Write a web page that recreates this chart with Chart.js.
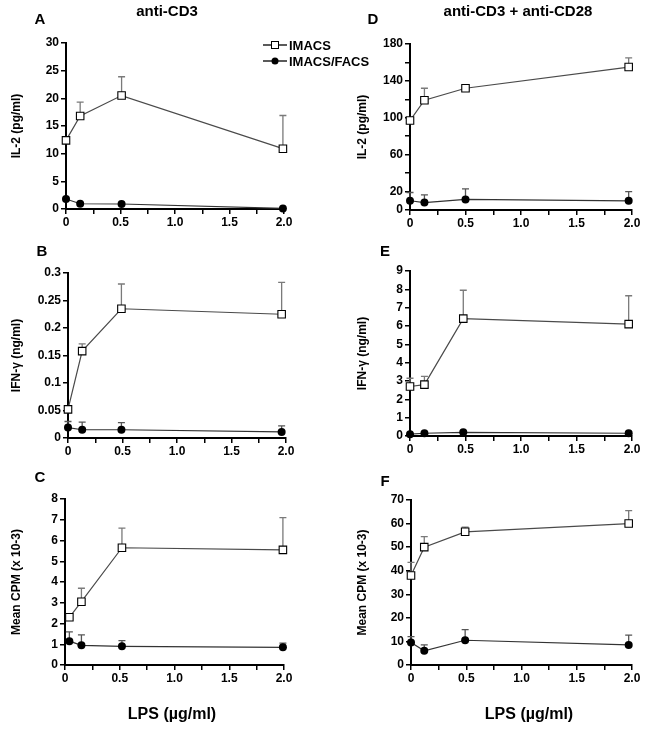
<!DOCTYPE html>
<html>
<head>
<meta charset="utf-8">
<script src="https://cdn.jsdelivr.net/npm/chart.js@4.4.1/dist/chart.umd.min.js"></script>
<style>
  body { margin: 0; background: #fff; width: 654px; height: 729px; position: relative; overflow: hidden; }
  canvas { position: absolute; }
</style>
</head>
<body>
<canvas id="pA" width="380" height="235" style="left:0;top:0"></canvas>
<canvas id="pD" width="324" height="235" style="left:330px;top:0"></canvas>
<canvas id="pB" width="330" height="225" style="left:0;top:235px"></canvas>
<canvas id="pE" width="324" height="225" style="left:330px;top:235px"></canvas>
<canvas id="pC" width="330" height="269" style="left:0;top:460px"></canvas>
<canvas id="pF" width="324" height="269" style="left:330px;top:460px"></canvas>
<script>
// LPS doses (x) as read for each panel
const lpsA = [0, 0.13, 0.51, 1.99];
const lpsB = [0, 0.13, 0.49, 1.96];
const lpsC = [0.04, 0.15, 0.52, 1.99];
const lpsD = [0, 0.13, 0.5, 1.97];
const lpsE = [0, 0.13, 0.48, 1.97];
const lpsF = [0, 0.12, 0.49, 1.97];

// A: IL-2, anti-CD3   (Hi = top of error bar)
const il2Cd3Imacs = [12.4, 16.8, 20.5, 10.9];
const il2Cd3ImacsHi = [null, 19.3, 23.9, 16.9];
const il2Cd3Facs = [1.8, 0.95, 0.9, 0.1];
const il2Cd3FacsHi = [null, null, null, null];

// B: IFN-gamma, anti-CD3
const ifnCd3Imacs = [0.052, 0.158, 0.235, 0.225];
const ifnCd3ImacsHi = [null, 0.171, 0.28, 0.283];
const ifnCd3Facs = [0.019, 0.015, 0.015, 0.011];
const ifnCd3FacsHi = [0.03, 0.029, 0.028, 0.022];

// C: Mean CPM, anti-CD3
const cpmCd3Imacs = [2.3, 3.05, 5.65, 5.55];
const cpmCd3ImacsHi = [null, 3.7, 6.6, 7.1];
const cpmCd3Facs = [1.15, 0.95, 0.9, 0.85];
const cpmCd3FacsHi = [1.6, 1.45, 1.17, 1.05];

// D: IL-2, anti-CD3 + anti-CD28
const il2Cd28Imacs = [97, 119, 132, 155];
const il2Cd28ImacsHi = [null, 132, null, 165];
const il2Cd28Facs = [10, 8, 11.5, 10];
const il2Cd28FacsHi = [19, 16.5, 23, 20];

// E: IFN-gamma, anti-CD3 + anti-CD28
const ifnCd28Imacs = [2.7, 2.8, 6.4, 6.1];
const ifnCd28ImacsHi = [3.15, 3.25, 7.95, 7.65];
const ifnCd28Facs = [0.1, 0.15, 0.2, 0.15];
const ifnCd28FacsHi = [null, null, null, null];

// F: Mean CPM, anti-CD3 + anti-CD28
const cpmCd28Imacs = [38, 50, 56.5, 60];
const cpmCd28ImacsHi = [43.5, 54.5, 58.5, 65.5];
const cpmCd28Facs = [9.5, 6, 10.5, 8.5];
const cpmCd28FacsHi = [12, 8.5, 15, 12.7];

// ticks
const xTicks = [0, 0.25, 0.5, 0.75, 1, 1.25, 1.5, 1.75, 2];
const xTickLabels = ['0', '', '0.5', '', '1.0', '', '1.5', '', '2.0'];
const yTicksA = [0, 5, 10, 15, 20, 25, 30];
const yTicksB = [0, 0.05, 0.1, 0.15, 0.2, 0.25, 0.3];
const yLabelsB = ['0', '0.05', '0.1', '0.15', '0.2', '0.25', '0.3'];
const yTicksC = [0, 1, 2, 3, 4, 5, 6, 7, 8];
const yTicksD = [0, 20, 40, 60, 80, 100, 120, 140, 160, 180];
const yLabelsD = ['0', '20', '', '60', '', '100', '', '140', '', '180'];
const yTicksE = [0, 1, 2, 3, 4, 5, 6, 7, 8, 9];
const yTicksF = [0, 10, 20, 30, 40, 50, 60, 70];

const seriesNames = ['IMACS', 'IMACS/FACS'];

Chart.defaults.font.family = "'Liberation Sans', Arial, sans-serif";
Chart.defaults.color = '#000';

const errorBars = {
  id: 'errorBars',
  beforeDatasetsDraw(chart) {
    const ctx = chart.ctx;
    const xs = chart.scales.x, ys = chart.scales.y;
    chart.data.datasets.forEach(ds => {
      ctx.save();
      ctx.strokeStyle = ds.errColor;
      ctx.lineWidth = 1.3;
      ds.data.forEach((p, i) => {
        const hi = ds.errHi[i];
        if (hi == null) return;
        const x = xs.getPixelForValue(p.x);
        const y0 = ys.getPixelForValue(p.y);
        const y1 = ys.getPixelForValue(hi);
        ctx.beginPath();
        ctx.moveTo(x, y0);
        ctx.lineTo(x, y1);
        ctx.moveTo(x - 3.5, y1);
        ctx.lineTo(x + 3.5, y1);
        ctx.stroke();
      });
      ctx.restore();
    });
  }
};

function textPlugin(texts) {
  return {
    id: 'panelText',
    afterDraw(chart) {
      const ctx = chart.ctx;
      ctx.save();
      ctx.fillStyle = '#000';
      ctx.textAlign = 'center';
      ctx.textBaseline = 'middle';
      texts.forEach(t => {
        ctx.font = 'bold ' + t.size + "px 'Liberation Sans', Arial, sans-serif";
        ctx.fillText(t.text, t.x, t.y);
      });
      ctx.restore();
    }
  };
}

const legendPlugin = {
  id: 'lineLegend',
  afterDraw(chart) {
    const ctx = chart.ctx;
    ctx.save();
    chart.data.datasets.forEach((ds, i) => {
      const y = 45 + i * 16;
      ctx.strokeStyle = '#000';
      ctx.lineWidth = 1.3;
      ctx.beginPath();
      ctx.moveTo(263, y);
      ctx.lineTo(287, y);
      ctx.stroke();
      ctx.fillStyle = ds.pointBackgroundColor;
      ctx.lineWidth = 1;
      if (ds.pointStyle === 'rect') {
        ctx.fillRect(271.5, y - 3.5, 7, 7);
        ctx.strokeRect(271.5, y - 3.5, 7, 7);
      } else {
        ctx.beginPath();
        ctx.arc(275, y, 3.5, 0, Math.PI * 2);
        ctx.fill();
      }
      ctx.fillStyle = '#000';
      ctx.font = "bold 13px 'Liberation Sans', Arial, sans-serif";
      ctx.textBaseline = 'middle';
      ctx.fillText(ds.label, 289, y + 1);
    });
    ctx.restore();
  }
};

function makePanel(id, box, lps, imacs, imacsHi, facs, facsHi, yTicks, yLabels, yTitle, texts, withLegend) {
  const el = document.getElementById(id);
  const W = el.width, H = el.height;
  const plugins = [errorBars, textPlugin(texts)];
  if (withLegend) plugins.push(legendPlugin);
  return new Chart(el, {
    type: 'line',
    data: {
      datasets: [{
        label: seriesNames[0],
        data: lps.map((x, i) => ({ x: x, y: imacs[i] })),
        errHi: imacsHi,
        errColor: '#7a7a7a',
        borderColor: '#4a4a4a',
        borderWidth: 1.2,
        pointStyle: 'rect',
        pointRadius: 5.3,
        pointBackgroundColor: '#fff',
        pointBorderColor: '#000',
        pointBorderWidth: 1.1,
        clip: false
      }, {
        label: seriesNames[1],
        data: lps.map((x, i) => ({ x: x, y: facs[i] })),
        errHi: facsHi,
        errColor: '#555',
        borderColor: '#333',
        borderWidth: 1.2,
        pointStyle: 'circle',
        pointRadius: 4,
        pointBackgroundColor: '#000',
        pointBorderColor: '#000',
        pointBorderWidth: 0,
        clip: false
      }]
    },
    options: {
      responsive: false,
      animation: false,
      events: [],
      layout: { padding: { top: box.T, right: W - box.R, left: 0, bottom: 0 } },
      plugins: { legend: { display: false }, tooltip: { enabled: false } },
      scales: {
        x: {
          type: 'linear',
          min: 0,
          max: 2,
          afterBuildTicks: s => { s.ticks = xTicks.map(v => ({ value: v })); },
          afterFit: s => { s.height = H - box.B; },
          ticks: { autoSkip: false, maxRotation: 0, padding: 1, font: { size: 12, weight: 'bold' },
                   callback: (v, i) => xTickLabels[i] },
          grid: { drawOnChartArea: false, tickLength: 5, color: '#000', lineWidth: 1.5 },
          border: { color: '#000', width: 2 }
        },
        y: {
          type: 'linear',
          min: 0,
          max: yTicks[yTicks.length - 1],
          afterBuildTicks: s => { s.ticks = yTicks.map(v => ({ value: v })); },
          afterFit: s => { s.width = box.L; },
          ticks: { autoSkip: false, padding: 2, font: { size: 12, weight: 'bold' },
                   callback: (v, i) => yLabels ? yLabels[i] : String(v) },
          grid: { drawOnChartArea: false, tickLength: 5, color: '#000', lineWidth: 1.5 },
          border: { color: '#000', width: 2 },
          title: { display: true, text: yTitle, font: { size: 12, weight: 'bold' },
                   padding: { top: box.titleX - 7.2, bottom: 0 } }
        }
      }
    },
    plugins: plugins
  });
}

makePanel('pA', { L: 66, T: 43, R: 284, B: 209, titleX: 17 }, lpsA,
  il2Cd3Imacs, il2Cd3ImacsHi, il2Cd3Facs, il2Cd3FacsHi, yTicksA, null, 'IL-2 (pg/ml)',
  [{ text: 'anti-CD3', x: 167, y: 12, size: 15 }, { text: 'A', x: 40, y: 20, size: 15 }], true);

makePanel('pD', { L: 80, T: 44, R: 302, B: 210, titleX: 33 }, lpsD,
  il2Cd28Imacs, il2Cd28ImacsHi, il2Cd28Facs, il2Cd28FacsHi, yTicksD, yLabelsD, 'IL-2 (pg/ml)',
  [{ text: 'anti-CD3 + anti-CD28', x: 188, y: 12, size: 15 }, { text: 'D', x: 43, y: 20, size: 15 }], false);

makePanel('pB', { L: 68, T: 38, R: 286, B: 203, titleX: 17 }, lpsB,
  ifnCd3Imacs, ifnCd3ImacsHi, ifnCd3Facs, ifnCd3FacsHi, yTicksB, yLabelsB, 'IFN-\u03b3 (ng/ml)',
  [{ text: 'B', x: 42, y: 17, size: 15 }], false);

makePanel('pE', { L: 80, T: 36, R: 302, B: 201, titleX: 33 }, lpsE,
  ifnCd28Imacs, ifnCd28ImacsHi, ifnCd28Facs, ifnCd28FacsHi, yTicksE, null, 'IFN-\u03b3 (ng/ml)',
  [{ text: 'E', x: 55, y: 17, size: 15 }], false);

makePanel('pC', { L: 65, T: 39, R: 284, B: 205, titleX: 17 }, lpsC,
  cpmCd3Imacs, cpmCd3ImacsHi, cpmCd3Facs, cpmCd3FacsHi, yTicksC, null, 'Mean CPM (x 10-3)',
  [{ text: 'C', x: 40, y: 18, size: 15 }, { text: 'LPS (\u00b5g/ml)', x: 172, y: 255, size: 16 }], false);

makePanel('pF', { L: 81, T: 40, R: 302, B: 205, titleX: 33 }, lpsF,
  cpmCd28Imacs, cpmCd28ImacsHi, cpmCd28Facs, cpmCd28FacsHi, yTicksF, null, 'Mean CPM (x 10-3)',
  [{ text: 'F', x: 55, y: 22, size: 15 }, { text: 'LPS (\u00b5g/ml)', x: 199, y: 255, size: 16 }], false);
</script>
</body>
</html>
